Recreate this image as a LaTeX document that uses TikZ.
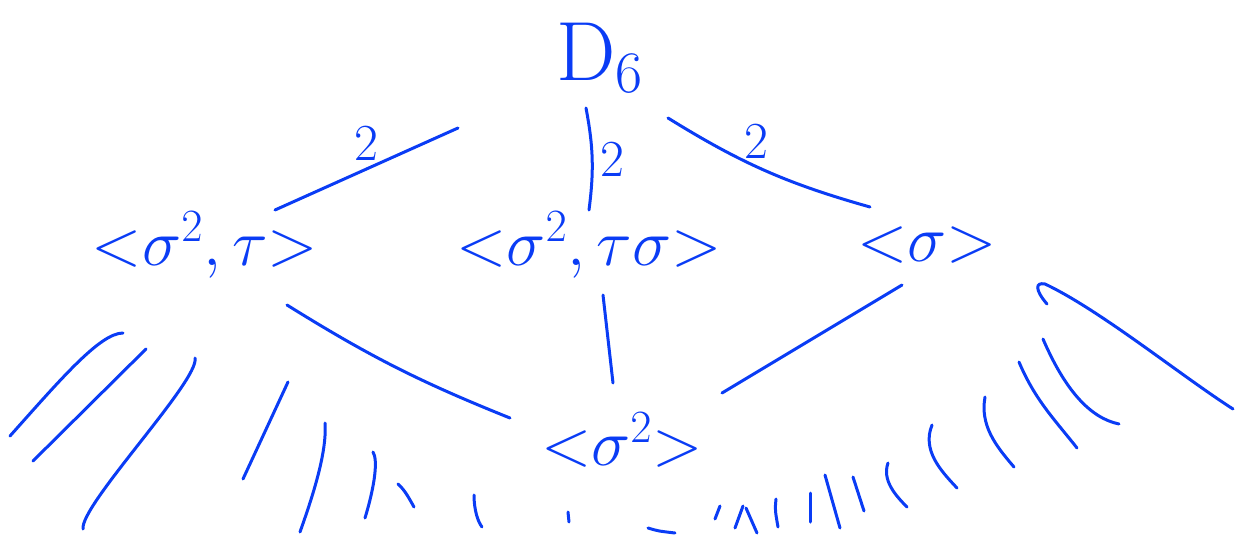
\RequirePackage{fix-cm}
\documentclass[tikz,border=0pt]{standalone}
\usepackage{xcolor}
\definecolor{penblue}{HTML}{0A3CF5}

\begin{document}
\begin{tikzpicture}[x=0.5pt, y=-0.5pt,
    ink/.style={draw=penblue, line width=1.5pt, line cap=round},
    grp/.style={text=penblue, inner sep=0pt, font=\fontsize{33}{40}\selectfont},
    idx/.style={text=penblue, font=\fontsize{26}{30}\selectfont}]
  \useasboundingbox (0,0) rectangle (1243,536);
  % lattice of subgroups
  \node[grp, font=\fontsize{42}{50}\selectfont] (D6) at (600,58) {$\mathrm{D}_6$};
  \node[grp] (A) at (205,245) {${<}\sigma^2,\tau{>}$};
  \node[grp] (B) at (589,245) {${<}\sigma^2,\tau\sigma{>}$};
  \node[grp] (C) at (927,245) {${<}\sigma{>}$};
  \node[grp] (E) at (622,440) {${<}\sigma^2{>}$};
  \draw[ink] ([shift={(-142,70)}]D6.center) -- node[idx, above]{2}
    ([shift={(70,-35)}]A.center);
  \draw[ink] ([shift={(-14,50)}]D6.center) to[bend left=9] node[idx, right]{2}
    ([shift={(0,-35)}]B.center);
  \draw[ink] ([shift={(68,60)}]D6.center) to[bend right=8] node[idx, above, pos=0.45]{2}
    ([shift={(-57,-38)}]C.center);
  \draw[ink] ([shift={(82,60)}]A.center) to[bend right=5] ([shift={(-112,-22)}]E.center);
  \draw[ink] ([shift={(14,50)}]B.center) -- ([shift={(-9,-57)}]E.center);
  \draw[ink] ([shift={(-25,40)}]C.center) -- ([shift={(100,-47)}]E.center);
  % strokes running off the bottom edge
  \draw[ink] (10,436) .. controls (60,380) and (100,333) .. (123,333);
  \draw[ink] (33,461) -- (146,349);
  \draw[ink] (83,529) .. controls (80,505) and (200,380) .. (195,358);
  \draw[ink] (243,479) -- (288,382);
  \draw[ink] (300,532) .. controls (315,490) and (327,450) .. (325,423);
  \draw[ink] (365,518) .. controls (375,485) and (378,460) .. (373,452);
  \draw[ink] (398,484) .. controls (405,490) and (410,500) .. (414,507);
  \draw[ink] (474,495) .. controls (474,510) and (478,522) .. (482,527);
  \draw[ink] (568,512) -- (569,522);
  \draw[ink] (648,528) .. controls (658,531) .. (675,533);
  \draw[ink] (720,506) -- (715,519);
  \draw[ink] (735,528) -- (743,506);
  \draw[ink] (746,508) -- (757,533);
  \draw[ink] (776,499) .. controls (775,510) .. (778,527);
  \draw[ink] (810,493) -- (810,522);
  \draw[ink] (825,475) -- (840,528);
  \draw[ink] (853,477) -- (864,511);
  \draw[ink] (888,463) .. controls (882,480) and (895,495) .. (907,507);
  \draw[ink] (932,425) .. controls (922,450) and (940,470) .. (957,488);
  \draw[ink] (985,397) .. controls (980,425) and (995,445) .. (1014,467);
  \draw[ink] (1019,362) .. controls (1035,400) and (1055,420) .. (1077,448);
  \draw[ink] (1043,339) .. controls (1065,390) and (1090,418) .. (1119,424);
  \draw[ink] (1047,304) .. controls (1035,290) and (1035,282) .. (1045,284)
    .. controls (1100,310) and (1180,375) .. (1233,409);
\end{tikzpicture}
\end{document}
